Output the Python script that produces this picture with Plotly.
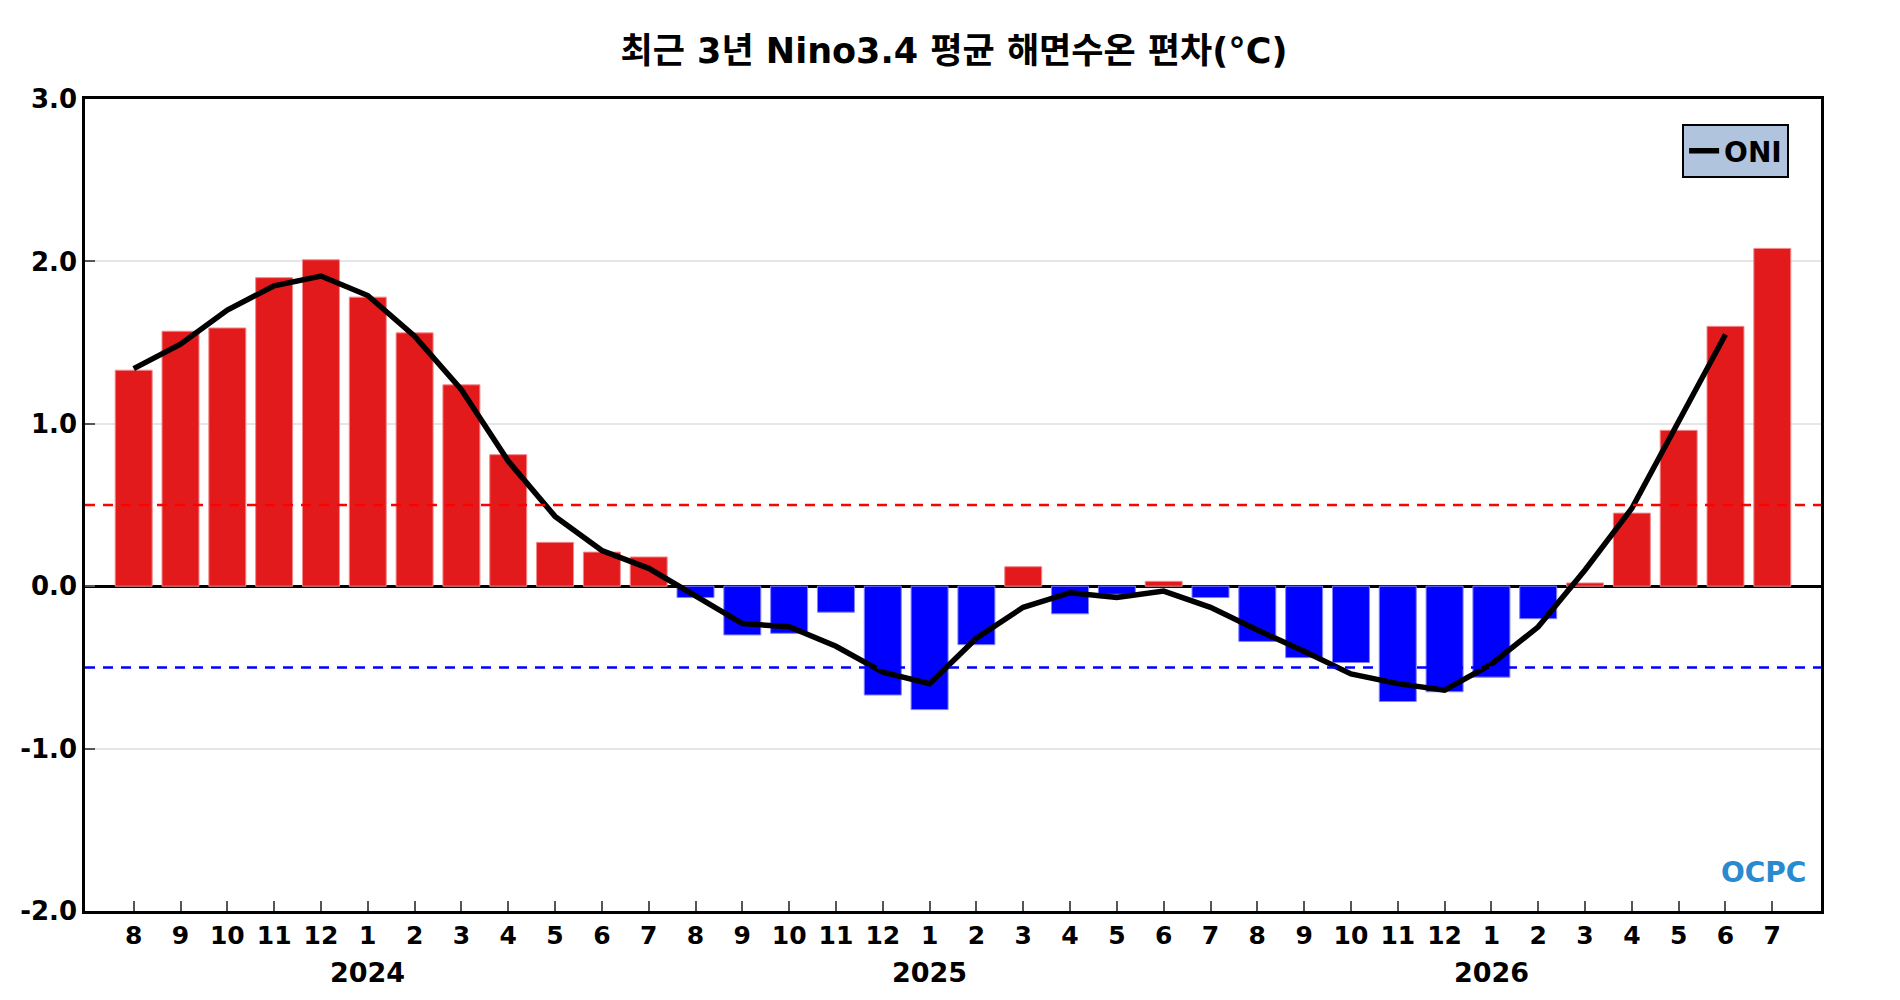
import plotly.graph_objects as go

# monthly Nino3.4 anomaly (bars) and ONI (3-month running mean), Aug 2023 - Jul 2026
months = ["8", "9", "10", "11", "12", "1", "2", "3", "4", "5", "6", "7",
          "8", "9", "10", "11", "12", "1", "2", "3", "4", "5", "6", "7",
          "8", "9", "10", "11", "12", "1", "2", "3", "4", "5", "6", "7"]
nino34 = [1.33, 1.57, 1.59, 1.90, 2.01, 1.78, 1.56, 1.24, 0.81, 0.27, 0.21, 0.18,
          -0.07, -0.30, -0.29, -0.16, -0.67, -0.76, -0.36, 0.12, -0.17, -0.05, 0.03, -0.07,
          -0.34, -0.44, -0.47, -0.71, -0.65, -0.56, -0.20, 0.02, 0.45, 0.96, 1.60, 2.08]
oni = [1.34, 1.49, 1.70, 1.85, 1.91, 1.79, 1.54, 1.21, 0.77, 0.43, 0.22, 0.11,
       -0.06, -0.23, -0.25, -0.37, -0.53, -0.60, -0.32, -0.13, -0.04, -0.07, -0.03, -0.13,
       -0.27, -0.40, -0.54, -0.60, -0.64, -0.48, -0.25, 0.10, 0.48, 1.01, 1.55, None]
years = ["2024", "2025", "2026"]
year_pos = [5, 17, 29]  # index of January in each year

x = list(range(len(months)))
bar_colors = ["#e31a1c" if v >= 0 else "#0000ff" for v in nino34]
edge_colors = ["#f28a8c" if v >= 0 else "#8080ff" for v in nino34]

font = "DejaVu Sans, Noto Sans CJK KR, sans-serif"

fig = go.Figure()
fig.add_trace(go.Bar(x=x, y=nino34, marker_color=bar_colors, width=0.79,
                     marker_line=dict(color=edge_colors, width=1), showlegend=False))
fig.add_trace(go.Scatter(x=x, y=oni, mode="lines", name="<b>ONI</b>",
                         line=dict(color="black", width=5.5)))

# +-0.5 thresholds
fig.add_shape(type="line", xref="paper", x0=0, x1=1, y0=0.5, y1=0.5,
              line=dict(color="#ff0000", width=2.5, dash="10px,8px"))
fig.add_shape(type="line", xref="paper", x0=0, x1=1, y0=-0.5, y1=-0.5,
              line=dict(color="#0000ff", width=2.5, dash="10px,8px"))

for yr, p in zip(years, year_pos):
    fig.add_annotation(x=p, y=0, xref="x", yref="paper", yshift=-61, text="<b>" + yr + "</b>",
                       showarrow=False, xanchor="center", yanchor="middle",
                       font=dict(family=font, size=27, color="black"))

fig.add_annotation(x=0.9666, y=0.047, xref="paper", yref="paper", text="<b>OCPC</b>",
                   showarrow=False, xanchor="center", yanchor="middle",
                   font=dict(family=font, size=28, color="#2a8ad0"))

# page body has an 8px margin, so the figure is a bit smaller than the window
fig.update_layout(
    width=1892, height=992,
    margin=dict(l=75, r=79, t=91, b=89),
    paper_bgcolor="white", plot_bgcolor="white",
    title=dict(text="<b>최근 3년 Nino3.4 평균 해면수온 편차(°C)</b>", x=0.5, xanchor="center",
               y=1 - 43 / 992, yanchor="middle", font=dict(family=font, size=35, color="black")),
    legend=dict(x=0.92, y=0.969, xanchor="left", yanchor="top", bgcolor="#b0c4de",
                bordercolor="black", borderwidth=2, itemwidth=30,
                font=dict(family=font, size=28, color="black")),
)
fig.update_xaxes(range=[-1.04, 36.04], tickmode="array", tickvals=x,
                 ticktext=["<b>" + m + "</b>" for m in months],
                 ticks="inside", ticklen=10, tickwidth=2, tickcolor="#555555",
                 showgrid=False, zeroline=False, showline=True, mirror=True,
                 linecolor="black", linewidth=2.5,
                 tickfont=dict(family=font, size=25, color="black"))
fig.update_yaxes(range=[-2, 3], tickmode="array", tickvals=[-2, -1, 0, 1, 2, 3],
                 ticktext=["<b>-2.0</b>", "<b>-1.0</b>", "<b>0.0</b>", "<b>1.0</b>", "<b>2.0</b>", "<b>3.0</b>"],
                 ticks="inside", ticklen=10, tickwidth=2, tickcolor="#555555",
                 showgrid=True, gridcolor="#e6e6e6", gridwidth=1.5,
                 zeroline=True, zerolinecolor="black", zerolinewidth=2.5,
                 showline=True, mirror=True, linecolor="black", linewidth=2.5,
                 tickfont=dict(family=font, size=26, color="black"))

fig.write_html("out.html")
